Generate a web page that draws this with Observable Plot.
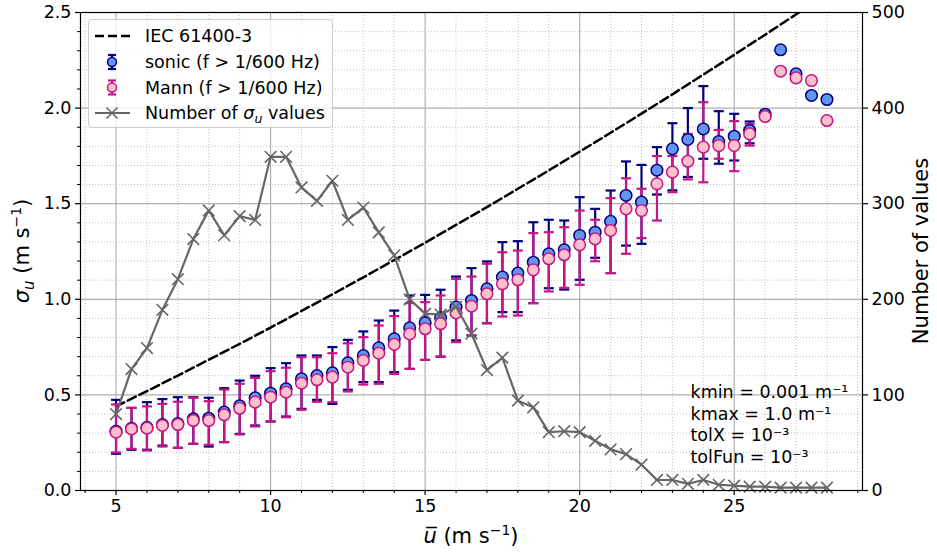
<!DOCTYPE html>
<html><head><meta charset="utf-8">
<script src="https://cdn.jsdelivr.net/npm/d3@7"></script>
<script src="https://cdn.jsdelivr.net/npm/@observablehq/plot@0.6"></script>
<style>
body{margin:0;background:#fff;}
#chart{position:relative;width:937px;height:553px;font-family:"DejaVu Sans",sans-serif;}
</style></head><body><div id="chart"></div>
<script>
// ---- data ----
const windSpeed = [5,5.5,6,6.5,7,7.5,8,8.5,9,9.5,10,10.5,11,11.5,12,12.5,13,13.5,14,14.5,15,15.5,16,16.5,17,17.5,18,18.5,19,19.5,20,20.5,21,21.5,22,22.5,23,23.5,24,24.5,25,25.5,26,26.5,27,27.5,28];
const sonicSigma = [0.31,0.325,0.33,0.345,0.35,0.375,0.378,0.41,0.443,0.485,0.509,0.532,0.584,0.601,0.615,0.668,0.706,0.746,0.793,0.851,0.877,0.903,0.959,0.994,1.055,1.116,1.137,1.194,1.238,1.259,1.334,1.351,1.408,1.543,1.508,1.675,1.787,1.836,1.891,1.825,1.853,1.883,1.967,2.305,2.179,2.066,2.045];
const sonicLow  = [0.192,0.213,0.213,0.235,0.223,0.244,0.23,0.253,0.296,0.34,0.361,0.387,0.427,0.474,0.453,0.527,0.567,0.567,0.619,0.636,0.683,0.70,0.785,0.811,0.875,0.933,0.933,0.98,1.058,1.051,1.102,1.217,1.137,1.281,1.29,1.548,1.57,1.64,1.735,1.709,1.726,1.816,1.944];
const sonicHigh = [0.474,0.432,0.462,0.478,0.488,0.488,0.485,0.535,0.575,0.60,0.64,0.666,0.706,0.706,0.75,0.788,0.832,0.889,0.941,1.02,1.023,1.05,1.119,1.163,1.198,1.299,1.304,1.403,1.416,1.412,1.534,1.473,1.569,1.721,1.703,1.796,1.921,2.0,2.115,1.984,1.97,1.93,1.987];
const mannSigma = [0.305,0.322,0.326,0.34,0.345,0.366,0.366,0.396,0.43,0.462,0.488,0.514,0.561,0.579,0.593,0.645,0.68,0.718,0.764,0.819,0.846,0.872,0.929,0.964,1.029,1.081,1.102,1.154,1.212,1.233,1.285,1.316,1.36,1.473,1.464,1.604,1.665,1.722,1.796,1.804,1.804,1.865,1.956,2.193,2.158,2.144,1.935];
const mannLow   = [0.199,0.218,0.209,0.23,0.223,0.244,0.239,0.253,0.293,0.335,0.361,0.383,0.422,0.464,0.462,0.518,0.554,0.558,0.61,0.636,0.683,0.70,0.776,0.811,0.875,0.91,0.915,0.98,1.041,1.06,1.076,1.199,1.137,1.238,1.32,1.412,1.56,1.627,1.612,1.735,1.67,1.804,1.944];
const mannHigh  = [0.45,0.432,0.44,0.453,0.464,0.485,0.467,0.528,0.558,0.589,0.624,0.642,0.697,0.697,0.718,0.77,0.802,0.863,0.912,0.98,0.985,1.02,1.107,1.119,1.186,1.246,1.255,1.346,1.351,1.377,1.464,1.416,1.529,1.633,1.578,1.749,1.749,1.865,2.031,1.886,1.932,1.918,1.975];
const nValues   = [80,127,149,189,221,263,293,267,287,283,349,349,317,303,324,283,296,270,246,200,185,184,192,164,126,139,94,87,61,62,61,52,43,38,27,11,11,7,11,6,5,4,4,3,3,3,3];
const iecSpeed  = [5,6,7,8,9,10,11,12,13,14,15,16,17,18,19,20,21,22,23,24,25,26,27,28];
const iecSigma  = [0.440,0.520,0.601,0.684,0.767,0.852,0.939,1.026,1.115,1.205,1.296,1.389,1.482,1.578,1.674,1.772,1.871,1.971,2.072,2.175,2.279,2.384,2.490,2.597];
const majorX = [5,10,15,20,25];
const majorY = [0,0.5,1.0,1.5,2.0,2.5];
const noteLines = ["kmin = 0.001 m\u207B\u00B9","kmax = 1.0 m\u207B\u00B9","tolX = 10\u207B\u00B3","tolFun = 10\u207B\u00B3"];
const countToSigma = 2.5 / 500;

// ---- tables ----
const rows = windSpeed.map((u, i) => ({u, sonic: sonicSigma[i], sLo: sonicLow[i], sHi: sonicHigh[i],
  mann: mannSigma[i], mLo: mannLow[i], mHi: mannHigh[i], n: nValues[i]}));
const bars = rows.filter(d => d.sLo != null);
const iec = iecSpeed.map((u, i) => ({u, s: iecSigma[i]}));
const minorX = d3.range(4, 30).filter(v => v % 5 !== 0);
const minorY = d3.range(0, 26).filter(i => i % 5 !== 0).map(i => i / 10);

const cap = {draw(ctx){ ctx.moveTo(-5, 0); ctx.lineTo(5, 0); }};
const cross = {draw(ctx){ const r = 5.8; ctx.moveTo(-r,-r); ctx.lineTo(r,r); ctx.moveTo(-r,r); ctx.lineTo(r,-r); }};

const NAVY = "#000080", BLUE = "#6495ED", MVR = "#C71585", PINK = "#FFC0CB", GREY = "#666666";
const gridC = "#b0b0b0";

const plot = Plot.plot({
  width: 937, height: 553,
  marginLeft: 80, marginRight: 75, marginTop: 12, marginBottom: 63,
  x: {domain: [3.85, 29.15]},
  y: {domain: [0, 2.5]},
  style: {fontFamily: "DejaVu Sans", fontSize: "17.5px", color: "black", background: "white", overflow: "visible"},
  marks: [
    Plot.gridX(minorX, {stroke: gridC, strokeOpacity: 1, strokeWidth: 0.8, strokeDasharray: "1,2"}),
    Plot.gridY(minorY, {stroke: gridC, strokeOpacity: 1, strokeWidth: 0.8, strokeDasharray: "1,2"}),
    Plot.gridX(majorX, {stroke: gridC, strokeOpacity: 1, strokeWidth: 1.2}),
    Plot.gridY(majorY, {stroke: gridC, strokeOpacity: 1, strokeWidth: 1.2}),
    Plot.line(iec, {x: "u", y: "s", stroke: "black", strokeWidth: 2.5, strokeDasharray: "9,4", clip: true}),
    Plot.ruleX(bars, {x: "u", y1: "sLo", y2: "sHi", stroke: NAVY, strokeWidth: 2.2}),
    Plot.dot(bars, {x: "u", y: "sHi", symbol: cap, stroke: NAVY, strokeWidth: 2.2}),
    Plot.dot(bars, {x: "u", y: "sLo", symbol: cap, stroke: NAVY, strokeWidth: 2.2}),
    Plot.ruleX(bars, {x: "u", y1: "mLo", y2: "mHi", stroke: MVR, strokeWidth: 2.2}),
    Plot.dot(bars, {x: "u", y: "mHi", symbol: cap, stroke: MVR, strokeWidth: 2.2}),
    Plot.dot(bars, {x: "u", y: "mLo", symbol: cap, stroke: MVR, strokeWidth: 2.2}),
    Plot.dot(rows, {x: "u", y: "sonic", r: 5.8, fill: BLUE, stroke: NAVY, strokeWidth: 1.5}),
    Plot.dot(rows, {x: "u", y: "mann", r: 5.8, fill: PINK, stroke: MVR, strokeWidth: 1.5}),
    Plot.line(rows, {x: "u", y: d => d.n * countToSigma, stroke: GREY, strokeWidth: 2.2}),
    Plot.dot(rows, {x: "u", y: d => d.n * countToSigma, symbol: cross, stroke: GREY, strokeWidth: 1.6}),
    Plot.text([noteLines.join("\n")], {frameAnchor: "bottom-right", dx: -172, dy: -28, textAnchor: "start",
      lineAnchor: "bottom", lineHeight: 1.22, fill: "black"}),
    Plot.frame({stroke: "black", strokeWidth: 1.2}),
    Plot.axisX({ticks: majorX, tickSize: 5, tickPadding: 4, tickFormat: d => String(d), label: null, strokeWidth: 1.2}),
    Plot.axisX({ticks: minorX, tickSize: 3, tickFormat: () => "", label: null, strokeWidth: 1}),
    Plot.axisY({ticks: majorY, tickSize: 5, tickPadding: 4, tickFormat: d3.format(".1f"), label: null, strokeWidth: 1.2}),
    Plot.axisY({ticks: minorY, tickSize: 3, tickFormat: () => "", label: null, strokeWidth: 1}),
    Plot.axisY({anchor: "right", ticks: majorY, tickSize: 5, tickPadding: 4, tickFormat: d => String(Math.round(d / countToSigma)), label: null, strokeWidth: 1.2})
  ]
});
const chart = document.getElementById("chart");
chart.appendChild(plot);

// ---- axis labels ----
const svg = d3.select(plot);
const LFS = 21;
const yl = svg.append("text").attr("transform", "translate(29,251) rotate(-90)")
  .attr("text-anchor", "middle").attr("font-size", LFS).attr("fill", "black");
yl.append("tspan").attr("font-style", "italic").text("σ");
yl.append("tspan").attr("font-style", "italic").attr("font-size", 15).attr("dy", 5).text("u");
yl.append("tspan").attr("dy", -5).text(" (m s");
yl.append("tspan").attr("font-size", 14).attr("dy", -8).text("−1");
yl.append("tspan").attr("dy", 8).text(")");

const xl = svg.append("text").attr("x", 471).attr("y", 543)
  .attr("text-anchor", "middle").attr("font-size", LFS).attr("fill", "black");
xl.append("tspan").attr("font-style", "italic").text("u\u0305");
xl.append("tspan").text(" (m s");
xl.append("tspan").attr("font-size", 14).attr("dy", -8).text("−1");
xl.append("tspan").attr("dy", 8).text(")");

svg.append("text").attr("transform", "translate(928,251) rotate(-90)")
  .attr("text-anchor", "middle").attr("font-size", LFS).attr("fill", "black").text("Number of values");

// ---- legend ----
const lg = d3.select(chart).append("svg").attr("width", 246).attr("height", 110)
  .style("position", "absolute").style("left", "88px").style("top", "19px")
  .attr("font-family", "DejaVu Sans").attr("font-size", 17.5);
lg.append("rect").attr("x", 0.5).attr("y", 0.5).attr("width", 244).attr("height", 108).attr("rx", 3)
  .attr("fill", "white").attr("fill-opacity", 0.8).attr("stroke", "#cccccc");
const ry = [17, 43, 68.5, 94], sx = 24, tx = 57;
lg.append("line").attr("x1", 7).attr("x2", 42).attr("y1", ry[0]).attr("y2", ry[0])
  .attr("stroke", "black").attr("stroke-width", 2.5).attr("stroke-dasharray", "9,4");
[[NAVY, BLUE, ry[1]], [MVR, PINK, ry[2]]].forEach(([ec, fc, y]) => {
  lg.append("line").attr("x1", sx).attr("x2", sx).attr("y1", y - 7).attr("y2", y + 7).attr("stroke", ec).attr("stroke-width", 2.2);
  lg.append("line").attr("x1", sx - 4).attr("x2", sx + 4).attr("y1", y - 7).attr("y2", y - 7).attr("stroke", ec).attr("stroke-width", 2.2);
  lg.append("line").attr("x1", sx - 4).attr("x2", sx + 4).attr("y1", y + 7).attr("y2", y + 7).attr("stroke", ec).attr("stroke-width", 2.2);
  lg.append("circle").attr("cx", sx).attr("cy", y).attr("r", 4.5).attr("fill", fc).attr("stroke", ec).attr("stroke-width", 1.5);
});
lg.append("line").attr("x1", 7).attr("x2", 42).attr("y1", ry[3]).attr("y2", ry[3]).attr("stroke", GREY).attr("stroke-width", 2.2);
lg.append("path").attr("d", `M${sx-5.5},${ry[3]-5.5}L${sx+5.5},${ry[3]+5.5}M${sx-5.5},${ry[3]+5.5}L${sx+5.5},${ry[3]-5.5}`)
  .attr("stroke", GREY).attr("stroke-width", 1.6);
const lt = (y, s) => lg.append("text").attr("x", tx).attr("y", y).attr("dy", "0.35em").attr("fill", "black").text(s);
lt(ry[0], "IEC 61400-3");
lt(ry[1], "sonic (f > 1/600 Hz)");
lt(ry[2], "Mann (f > 1/600 Hz)");
const l4 = lt(ry[3], "Number of ");
l4.append("tspan").attr("font-style", "italic").text("σ");
l4.append("tspan").attr("font-style", "italic").attr("font-size", 12.5).attr("dy", 4).text("u");
l4.append("tspan").attr("dy", -4).text(" values");
</script></body></html>
